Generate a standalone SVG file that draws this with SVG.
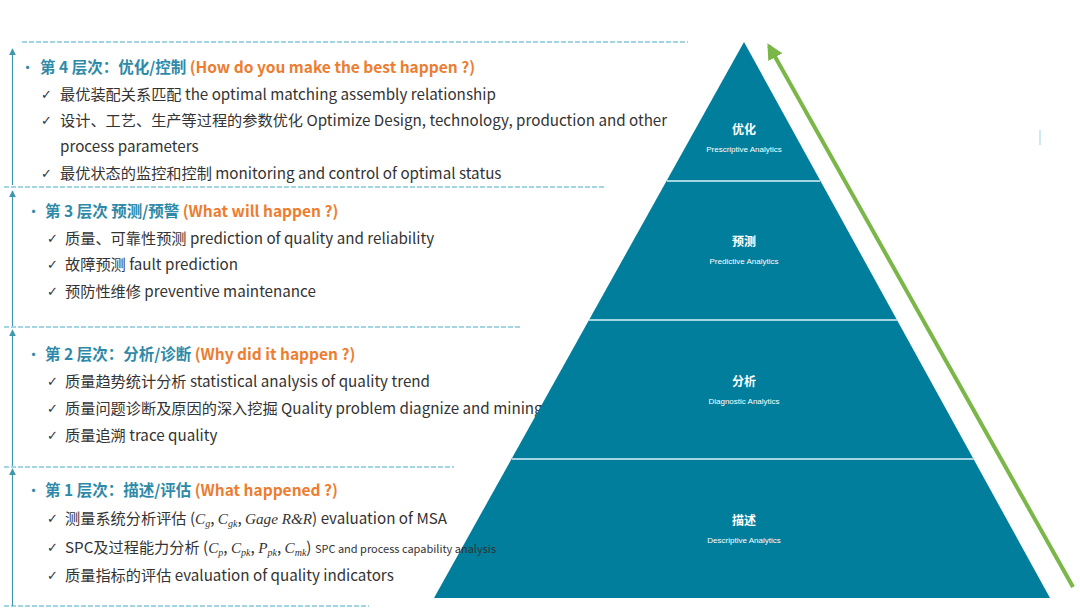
<svg xmlns="http://www.w3.org/2000/svg" width="1080" height="609" viewBox="0 0 1080 609">
<style>
.dash{stroke:#4bacc6;stroke-width:1.2;stroke-dasharray:5 2;fill:none}
.vline{stroke:#3f97b0;stroke-width:1.2;fill:none}
.hd{font-family:"Noto Sans CJK SC","Noto Sans",sans-serif;font-size:15.5px;font-weight:bold;fill:#2f8aa8}
.or{fill:#ec7d31}
.bul{font-family:"Noto Sans CJK SC",sans-serif;font-size:15px;fill:#2f8aa8}
.it{font-family:"Noto Sans CJK SC","Noto Sans",sans-serif;font-size:15.2px;fill:#333}
.ck{font-family:"DejaVu Sans",sans-serif;font-size:13px;fill:#333}
.m{font-family:"Liberation Serif",serif;font-style:italic}
.pt{font-family:"Noto Sans CJK SC",sans-serif;font-size:12px;font-weight:bold;fill:#fff;text-anchor:middle}
.ps{font-family:"Liberation Sans",Arial,sans-serif;font-size:8px;fill:#fff;text-anchor:middle}
.band{stroke:#a6d4e0;stroke-width:2}
</style>
<defs>
<marker id="ah" viewBox="0 0 10 10" refX="9" refY="5" markerWidth="7" markerHeight="7" orient="auto-start-reverse" markerUnits="userSpaceOnUse">
<path d="M0,0 L10,5 L0,10 z" fill="#3f97b0"/>
</marker>
<marker id="gh" viewBox="0 0 10 10" refX="8" refY="5" markerWidth="16" markerHeight="16" orient="auto" markerUnits="userSpaceOnUse">
<path d="M0,0 L10,5 L0,10 z" fill="#7ab648"/>
</marker>
</defs>
<rect width="1080" height="609" fill="#fff"/>

<g id="connectors">
<line class="dash" x1="22" y1="42" x2="688" y2="42"/>
<line class="dash" x1="4" y1="187" x2="604" y2="187"/>
<line class="dash" x1="4" y1="327" x2="522" y2="327"/>
<line class="dash" x1="4" y1="467" x2="454" y2="467"/>
<line class="dash" x1="4" y1="606" x2="369" y2="606"/>
<line class="vline" x1="12.5" y1="185" x2="12.5" y2="49" marker-end="url(#ah)"/>
<line class="vline" x1="12.5" y1="326" x2="12.5" y2="191" marker-end="url(#ah)"/>
<line class="vline" x1="12.5" y1="466" x2="12.5" y2="330" marker-end="url(#ah)"/>
<line class="vline" x1="12.5" y1="606" x2="12.5" y2="469" marker-end="url(#ah)"/>
<line x1="1073" y1="587" x2="769" y2="46" stroke="#7ab648" stroke-width="4" marker-end="url(#gh)"/>
<line x1="1040" y1="130" x2="1040" y2="145" stroke="#9fd3e3" stroke-width="1"/>
</g>

<g id="level4">
<text class="bul" x="20" y="73">•</text>
<text class="hd" x="40" y="73">第 4 层次：优化/控制 <tspan class="or">(How do you make the best happen ?)</tspan></text>
<text class="ck" x="41" y="99">✓</text>
<text class="it" x="60" y="100">最优装配关系匹配 the optimal matching assembly relationship</text>
<text class="ck" x="41" y="125">✓</text>
<text class="it" x="60" y="126">设计、工艺、生产等过程的参数优化 Optimize Design, technology, production and other</text>
<text class="it" x="60" y="152">process parameters</text>
<text class="ck" x="41" y="178">✓</text>
<text class="it" x="60" y="179">最优状态的监控和控制 monitoring and control of optimal status</text>
</g>

<g id="level3">
<text class="bul" x="26" y="217">•</text>
<text class="hd" x="45" y="217">第 3 层次 预测/预警 <tspan class="or">(What will happen ?)</tspan></text>
<text class="ck" x="47" y="243">✓</text>
<text class="it" x="65" y="244">质量、可靠性预测 prediction of quality and reliability</text>
<text class="ck" x="47" y="269">✓</text>
<text class="it" x="65" y="270">故障预测 fault prediction</text>
<text class="ck" x="47" y="296">✓</text>
<text class="it" x="65" y="297">预防性维修 preventive maintenance</text>
</g>

<g id="level2">
<text class="bul" x="26" y="360">•</text>
<text class="hd" x="45" y="360">第 2 层次：分析/诊断 <tspan class="or">(Why did it happen ?)</tspan></text>
<text class="ck" x="47" y="386">✓</text>
<text class="it" x="65" y="387">质量趋势统计分析 statistical analysis of quality trend</text>
<text class="ck" x="47" y="413">✓</text>
<text class="it" x="65" y="414">质量问题诊断及原因的深入挖掘 Quality problem diagnize and mining</text>
<text class="ck" x="47" y="440">✓</text>
<text class="it" x="65" y="441">质量追溯 trace quality</text>
</g>

<g id="pyramid">
<polygon points="744,42 1050,598 434,598" fill="#007e9c"/>
<line class="band" x1="667" y1="181" x2="820" y2="181"/>
<line class="band" x1="589" y1="320" x2="897" y2="320"/>
<line class="band" x1="512" y1="459" x2="974" y2="459"/>
</g>

<g id="level1">
<text class="bul" x="26" y="496">•</text>
<text class="hd" x="45" y="496">第 1 层次：描述/评估 <tspan class="or">(What happened ?)</tspan></text>
<text class="ck" x="47" y="523">✓</text>
<text class="it" x="65" y="524">测量系统分析评估 (<tspan class="m">C</tspan><tspan class="m" font-size="10" dy="3">g</tspan><tspan dy="-3">, </tspan><tspan class="m">C</tspan><tspan class="m" font-size="10" dy="3">gk</tspan><tspan dy="-3">, </tspan><tspan class="m">Gage R&amp;R</tspan>) evaluation of MSA</text>
<text class="ck" x="47" y="552">✓</text>
<text class="it" x="65" y="553">SPC及过程能力分析 (<tspan class="m">C</tspan><tspan class="m" font-size="10" dy="3">p</tspan><tspan dy="-3">, </tspan><tspan class="m">C</tspan><tspan class="m" font-size="10" dy="3">pk</tspan><tspan dy="-3">, </tspan><tspan class="m">P</tspan><tspan class="m" font-size="10" dy="3">pk</tspan><tspan dy="-3">, </tspan><tspan class="m">C</tspan><tspan class="m" font-size="10" dy="3">mk</tspan><tspan dy="-3">) </tspan><tspan font-size="11">SPC and process capability analysis</tspan></text>
<text class="ck" x="47" y="580">✓</text>
<text class="it" x="65" y="581">质量指标的评估  evaluation of quality indicators</text>
</g>

<g id="tier-prescriptive">
<text class="pt" x="744" y="134">优化</text>
<text class="ps" x="744" y="152">Prescriptive Analytics</text>
</g>
<g id="tier-predictive">
<text class="pt" x="744" y="246">预测</text>
<text class="ps" x="744" y="264">Predictive Analytics</text>
</g>
<g id="tier-diagnostic">
<text class="pt" x="744" y="386">分析</text>
<text class="ps" x="744" y="404">Diagnostic Analytics</text>
</g>
<g id="tier-descriptive">
<text class="pt" x="744" y="525">描述</text>
<text class="ps" x="744" y="543">Descriptive Analytics</text>
</g>
</svg>
